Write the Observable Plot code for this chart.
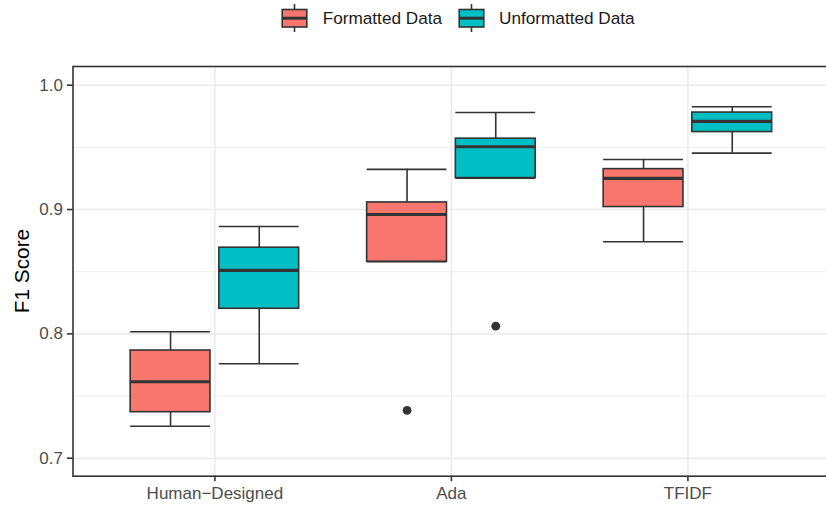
<!DOCTYPE html>
<html><head><meta charset="utf-8">
<script src="https://cdn.jsdelivr.net/npm/d3@7"></script>
<script src="https://cdn.jsdelivr.net/npm/@observablehq/plot@0.6"></script>
<style>
body{margin:0;background:#fff;font-family:"Liberation Sans",Arial,Helvetica,sans-serif;overflow:hidden;width:826px;height:507px;position:relative}
#legend{position:absolute;top:0;left:0;width:826px;height:40px;z-index:2}
.key{position:absolute;top:2px}
.ltext{position:absolute;top:9.4px;font-size:17.2px;line-height:19.2px;color:#1a1a1a;white-space:nowrap}
#ylab{position:absolute;left:22px;top:271px;transform:translate(-50%,-50%) rotate(-90deg);font-size:20.8px;line-height:24px;color:#000;white-space:nowrap;z-index:2}
#chart{position:absolute;top:40px;left:0;z-index:1}
</style></head><body>
<div id="legend"></div><div id="ylab">F1 Score</div><div id="chart"></div>
<script>
// ---- data ----
const categories = ["Human\u2212Designed", "Ada", "TFIDF"];
const groups = ["Formatted Data", "Unformatted Data"];
const colors = ["#F8766D", "#00BFC4"];
const yTicks = [0.7, 0.8, 0.9, 1.0];
const yMinorTicks = [0.75, 0.85, 0.95];

const formattedMin    = [0.7257, 0.858,  0.8741];
const formattedQ1     = [0.7370, 0.858,  0.9020];
const formattedMedian = [0.7615, 0.8960, 0.9250];
const formattedQ3     = [0.7866, 0.9057, 0.9325];
const formattedMax    = [0.8017, 0.9323, 0.9403];

const unformattedMin    = [0.7760, 0.9253, 0.9454];
const unformattedQ1     = [0.8202, 0.9253, 0.9623];
const unformattedMedian = [0.8510, 0.9505, 0.9709];
const unformattedQ3     = [0.8693, 0.9570, 0.9780];
const unformattedMax    = [0.8864, 0.9780, 0.9827];

const outlierCategory = ["Ada", "Ada"];
const outlierGroup = ["Formatted Data", "Unformatted Data"];
const outlierValue = [0.7384, 0.8062];

// ---- build tables ----
const dodge = 0.1875, half = 0.16875;
const stats = [
  [formattedMin, formattedQ1, formattedMedian, formattedQ3, formattedMax],
  [unformattedMin, unformattedQ1, unformattedMedian, unformattedQ3, unformattedMax]
];
const rows = [];
categories.forEach((c, i) => {
  groups.forEach((g, gi) => {
    const s = stats[gi];
    const xc = i + 1 + (gi === 0 ? -dodge : dodge);
    rows.push({category: c, group: g, xc, x1: xc - half, x2: xc + half,
      min: s[0][i], q1: s[1][i], median: s[2][i], q3: s[3][i], max: s[4][i]});
  });
});
const outliers = outlierValue.map((v, k) => {
  const i = categories.indexOf(outlierCategory[k]);
  const gi = groups.indexOf(outlierGroup[k]);
  return {value: v, group: outlierGroup[k], xc: i + 1 + (gi === 0 ? -dodge : dodge)};
});

const ink = "#333333";
const lw = 1.6;
const plot = Plot.plot({
  width: 826, height: 467,
  marginLeft: 72.5, marginRight: -3.3, marginTop: 26, marginBottom: 31.3,
  style: {fontFamily: '"Liberation Sans", Arial, Helvetica, sans-serif', fontSize: "17px", background: "white", overflow: "visible"},
  x: {domain: [0.4, 3.6]},
  y: {domain: [0.68552, 1.01504]},
  color: {domain: groups, range: colors},
  marks: [
    Plot.ruleY(yMinorTicks, {stroke: "#EBEBEB", strokeWidth: 0.8}),
    Plot.ruleY(yTicks, {stroke: "#EBEBEB", strokeWidth: 1.6}),
    Plot.ruleX([1, 2, 3], {stroke: "#EBEBEB", strokeWidth: 1.6}),
    Plot.ruleX(rows, {x: "xc", y1: "q3", y2: "max", stroke: ink, strokeWidth: lw}),
    Plot.ruleX(rows, {x: "xc", y1: "q1", y2: "min", stroke: ink, strokeWidth: lw}),
    Plot.ruleY(rows, {y: "max", x1: "x1", x2: "x2", stroke: ink, strokeWidth: lw}),
    Plot.ruleY(rows, {y: "min", x1: "x1", x2: "x2", stroke: ink, strokeWidth: lw}),
    Plot.rect(rows, {x1: "x1", x2: "x2", y1: "q1", y2: "q3", fill: "group", stroke: ink, strokeWidth: lw}),
    Plot.ruleY(rows, {y: "median", x1: "x1", x2: "x2", stroke: ink, strokeWidth: 3.2}),
    Plot.dot(outliers, {x: "xc", y: "value", r: 4.4, fill: ink, stroke: "none"}),
    Plot.frame({stroke: ink, strokeWidth: lw}),
    Plot.axisY({ticks: yTicks, tickFormat: d3.format(".1f"), tickSize: 5.5, tickPadding: 4.5,
      fill: "#4D4D4D", stroke: ink, strokeWidth: lw, label: null}),
    Plot.axisX({ticks: [1, 2, 3], tickFormat: d => categories[d - 1], tickSize: 5.5, tickPadding: 5,
      fill: "#4D4D4D", stroke: ink, strokeWidth: lw, label: null})
  ]
});
document.getElementById("chart").appendChild(plot);

// ---- legend ----
const legend = document.getElementById("legend");
const keyLeft = [281, 457.5];
const textLeft = [322.7, 499];
groups.forEach((g, gi) => {
  const ns = "http://www.w3.org/2000/svg";
  const svg = document.createElementNS(ns, "svg");
  svg.setAttribute("width", 27); svg.setAttribute("height", 32);
  svg.setAttribute("class", "key");
  svg.style.left = keyLeft[gi] + "px";
  svg.innerHTML =
    `<line x1="13.5" x2="13.5" y1="2" y2="8" stroke="${ink}" stroke-width="1.6"/>` +
    `<line x1="13.5" x2="13.5" y1="25" y2="30" stroke="${ink}" stroke-width="1.6"/>` +
    `<rect x="1.2" y="7.5" width="24.6" height="17.5" fill="${colors[gi]}" stroke="${ink}" stroke-width="1.6"/>` +
    `<line x1="1.2" x2="25.8" y1="16.2" y2="16.2" stroke="${ink}" stroke-width="3"/>`;
  legend.appendChild(svg);
  const t = document.createElement("div");
  t.className = "ltext";
  t.style.left = textLeft[gi] + "px";
  t.textContent = g;
  legend.appendChild(t);
});
</script>
</body></html>
